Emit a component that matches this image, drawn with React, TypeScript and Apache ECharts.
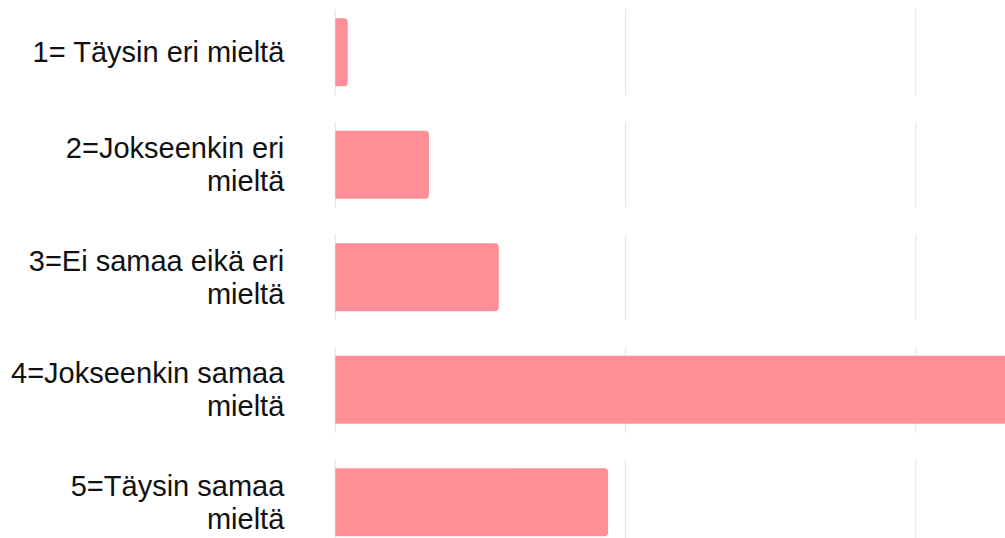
import React, { useEffect, useRef } from "react";
import * as echarts from "echarts";

const categories: string[] = [
  "1= Täysin eri mieltä",
  "2=Jokseenkin eri\nmieltä",
  "3=Ei samaa eikä eri\nmieltä",
  "4=Jokseenkin samaa\nmieltä",
  "5=Täysin samaa\nmieltä",
];
const values: number[] = [1.07, 8.07, 14.08, 60, 23.5];
const gridTicks: number[] = [0, 25, 50, 75];

const OFFSET_Y = 20;

export default function App() {
  const ref = useRef<HTMLDivElement>(null);
  useEffect(() => {
    document.body.style.margin = "0";
    if (!ref.current) return;
    const chart = echarts.init(ref.current, undefined, { renderer: "svg" });
    const option: any = {
      animation: false,
      backgroundColor: "#ffffff",
      grid: { left: 335.3, top: OFFSET_Y - 4, width: 870.6, height: 562.5, containLabel: false },
      xAxis: {
        type: "value",
        min: 0,
        max: 75,
        interval: 25,
        axisLine: { show: false },
        axisTick: { show: false },
        axisLabel: { show: false },
        splitLine: { show: false },
      },
      yAxis: {
        type: "category",
        data: categories,
        inverse: true,
        axisLine: { show: false },
        axisTick: { show: false },
        splitLine: { show: false },
        axisLabel: {
          margin: 51,
          fontFamily: "Liberation Sans",
          fontSize: 29,
          lineHeight: 33,
          color: "#111111",
          align: "right",
        },
      },
      series: [
        {
          type: "custom",
          z: 1,
          silent: true,
          data: categories.map((_, i) => [0, i]),
          encode: { x: 0, y: 1 },
          renderItem: (params: any, api: any) => {
            const idx = api.value(1);
            const band = api.size([0, 1])[1];
            const half = band * 0.382;
            const children = gridTicks.map((t) => {
              const p = api.coord([t, idx]);
              return {
                type: "line",
                shape: { x1: p[0], y1: p[1] - half, x2: p[0], y2: p[1] + half },
                style: { stroke: "#e6e8e8", lineWidth: 1.2 },
              };
            });
            return { type: "group", children };
          },
        },
        {
          type: "bar",
          z: 2,
          data: values,
          barWidth: 68,
          itemStyle: {
            color: "#ff8f96",
            borderRadius: [0, 4, 4, 0],
          },
        },
      ],
    };
    chart.setOption(option);
    return () => chart.dispose();
  }, []);
  return (
    <div style={{ position: "absolute", left: 0, top: 0, width: 1005, height: 538, overflow: "hidden" }}>
      <div
        ref={ref}
        style={{ position: "absolute", left: 0, top: -OFFSET_Y, width: 1240, height: 600 }}
      />
    </div>
  );
}
